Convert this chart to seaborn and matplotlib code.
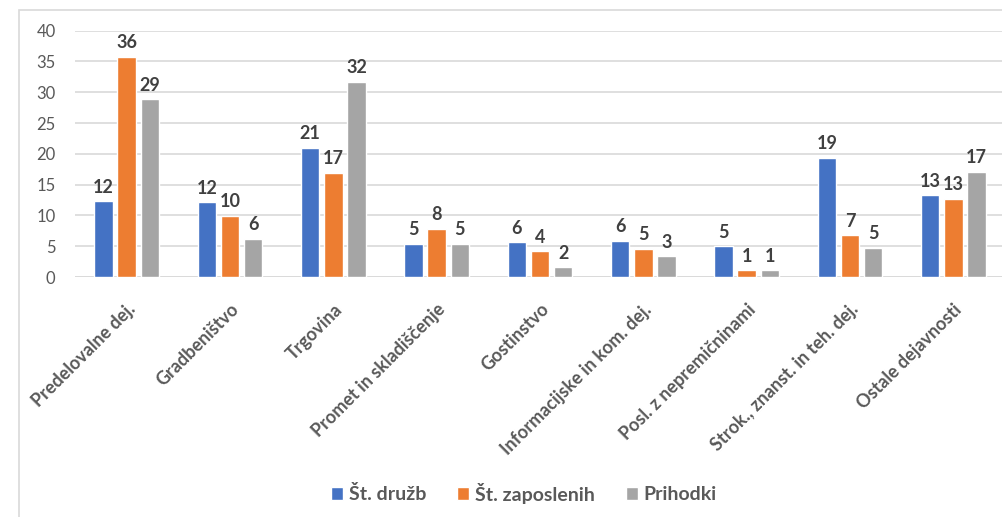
import matplotlib
matplotlib.use("Agg")
import matplotlib.pyplot as plt
import matplotlib.patches as mpatches
import seaborn as sns
import pandas as pd

categories = ["Predelovalne dej.", "Gradbeništvo", "Trgovina", "Promet in skladiščenje",
              "Gostinstvo", "Informacijske in kom. dej.", "Posl. z nepremičninami",
              "Strok., znanst. in teh. dej.", "Ostale dejavnosti"]
st_druzb = [12.3, 12.1, 21.0, 5.36, 5.63, 5.9, 5.0, 19.4, 13.3]
st_zaposlenih = [35.8, 9.9, 16.9, 7.85, 4.2, 4.6, 1.08, 6.8, 12.7]
prihodki = [28.85, 6.2, 31.7, 5.36, 1.6, 3.4, 1.08, 4.76, 17.05]
series_names = ["Št. družb", "Št. zaposlenih", "Prihodki"]
colors = ["#4472C4", "#ED7D31", "#A5A5A5"]
yticks = [0, 5, 10, 15, 20, 25, 30, 35, 40]

rows = []
for name, vals in zip(series_names, [st_druzb, st_zaposlenih, prihodki]):
    for c, v in zip(categories, vals):
        rows.append({"cat": c, "series": name, "value": v})
df = pd.DataFrame(rows)

sns.set_theme(style="white")
plt.rcParams['font.family'] = ['Lato', 'DejaVu Sans']

W, H = 1002, 517
fig = plt.figure(figsize=(W / 100, H / 100), dpi=100)
ax = fig.add_axes([75 / W, (H - 277) / H, 930 / W, (277 - 30.7) / H])

sns.barplot(data=df, x="cat", y="value", hue="series", order=categories,
            hue_order=series_names, palette=colors, width=0.67, gap=0.2,
            saturation=1, ax=ax, legend=True)

ax.set_ylim(0, 40)
ax.set_xlim(-0.5, len(categories) - 0.5)
ax.set_yticks(yticks)
ax.yaxis.grid(True, color="#D9D9D9", linewidth=1.2)
ax.set_axisbelow(True)
for s in ax.spines.values():
    s.set_visible(False)
ax.axhline(0, color="#D9D9D9", linewidth=1.2, zorder=0.5)
ax.set_xlabel("")
ax.set_ylabel("")
ax.tick_params(axis="y", length=0, pad=14, labelsize=12, labelcolor="#595959")
ax.tick_params(axis="x", length=0, pad=17)
for lab in ax.get_yticklabels():
    lab.set_color("#595959")
ax.set_xticks(range(len(categories)))
ax.set_xticklabels(categories, rotation=45, ha="right", va="top",
                   rotation_mode="anchor", fontsize=13, fontweight="bold", color="#595959")

for cont in ax.containers:
    ax.bar_label(cont, fmt="%.0f", padding=4, fontsize=13, fontweight="bold", color="#404040")

handles, labels = ax.get_legend_handles_labels()
if ax.legend_:
    ax.legend_.remove()
fig.legend(handles, labels, loc="center", bbox_to_anchor=(524 / W, 1 - 493 / H),
           ncol=3, frameon=False, handlelength=0.6, handleheight=0.6,
           handletextpad=0.3, columnspacing=1.6, labelcolor="#595959",
           prop={"weight": "bold", "size": 14})

border = mpatches.Rectangle((18.5 / W, -0.2), 1.2, 1.2 - 10 / H, transform=fig.transFigure,
                            fill=False, edgecolor="#D9D9D9", linewidth=1.2)
fig.patches.append(border)

fig.savefig("out.png", dpi=100, facecolor="white")
